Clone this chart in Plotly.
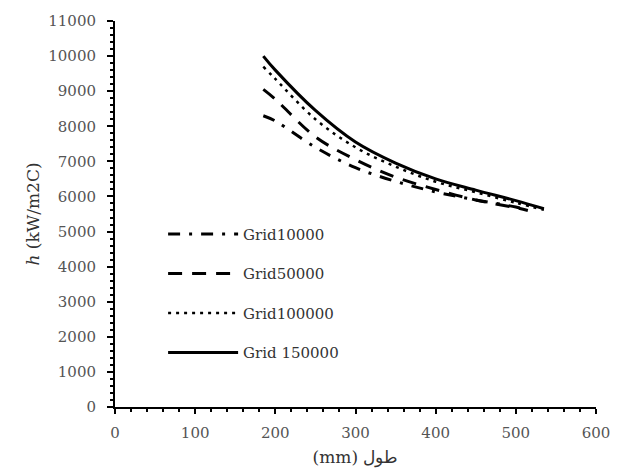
import plotly.graph_objects as go

x_10k = [185, 200, 250, 300, 350, 400, 450, 500, 515]
h_10k = [8300, 8150, 7400, 6820, 6430, 6130, 5900, 5700, 5620]

x_50k = [185, 200, 250, 300, 350, 400, 450, 500, 515]
h_50k = [9050, 8770, 7700, 7050, 6550, 6200, 5900, 5680, 5600]

x_100k = [185, 200, 250, 300, 350, 400, 450, 500, 535]
h_100k = [9700, 9350, 8200, 7400, 6850, 6420, 6120, 5820, 5620]

x_150k = [185, 200, 250, 300, 350, 400, 450, 500, 535]
h_150k = [10000, 9600, 8450, 7550, 6950, 6500, 6180, 5880, 5650]

names = ["Grid10000", "Grid50000", "Grid100000", "Grid 150000"]
dashes = ["12px,9px,3px,9px", "14px,10px", "3px,5px", "solid"]

font = "DejaVu Serif"
fig = go.Figure()
for i, (xs, ys) in enumerate([(x_10k, h_10k), (x_50k, h_50k), (x_100k, h_100k), (x_150k, h_150k)]):
    fig.add_trace(go.Scatter(
        x=xs, y=ys, mode="lines", name=names[i], legendgroup=names[i],
        line=dict(color="black", width=3 if i != 2 else 2.5, dash=dashes[i], shape="spline"),
    ))

fig.update_layout(
    width=629, height=475,
    margin=dict(l=115, r=33, t=21, b=68),
    paper_bgcolor="white", plot_bgcolor="white",
    font=dict(family=font, size=15, color="#555"),
    legend=dict(x=0.1, y=0.49, xanchor="left", yanchor="top",
                font=dict(family=font, size=15, color="#333"),
                itemwidth=70,
                traceorder="grouped", tracegroupgap=17, bgcolor="rgba(0,0,0,0)"),
    showlegend=True,
)
fig.update_xaxes(
    range=[0, 600], dtick=100, showgrid=False, zeroline=False, automargin=False,
    showline=True, linecolor="black", linewidth=2,
    ticks="outside", ticklen=5, tickwidth=2, tickcolor="black",
    ticklabelstandoff=6,
    minor=dict(dtick=20, ticks="outside", ticklen=3, tickcolor="black", tickwidth=1.5, showgrid=False),
    tickfont=dict(family=font, size=15, color="#555"),
    title=dict(text="(mm) طول", font=dict(family=font, size=17, color="#333"), standoff=10),
)
fig.update_yaxes(
    range=[0, 11000], dtick=1000, showgrid=False, zeroline=False, automargin=False,
    tickformat="d",
    showline=True, linecolor="black", linewidth=2,
    ticks="outside", ticklen=6, tickwidth=2, tickcolor="black",
    ticklabelstandoff=8,
    minor=dict(dtick=200, ticks="outside", ticklen=3, tickcolor="black", tickwidth=1.5, showgrid=False),
    tickfont=dict(family=font, size=15, color="#555"),
    title=dict(text="<i>h</i> (kW/m2C)", font=dict(family=font, size=17, color="#333"), standoff=4),
)
fig.write_html("out.html")
